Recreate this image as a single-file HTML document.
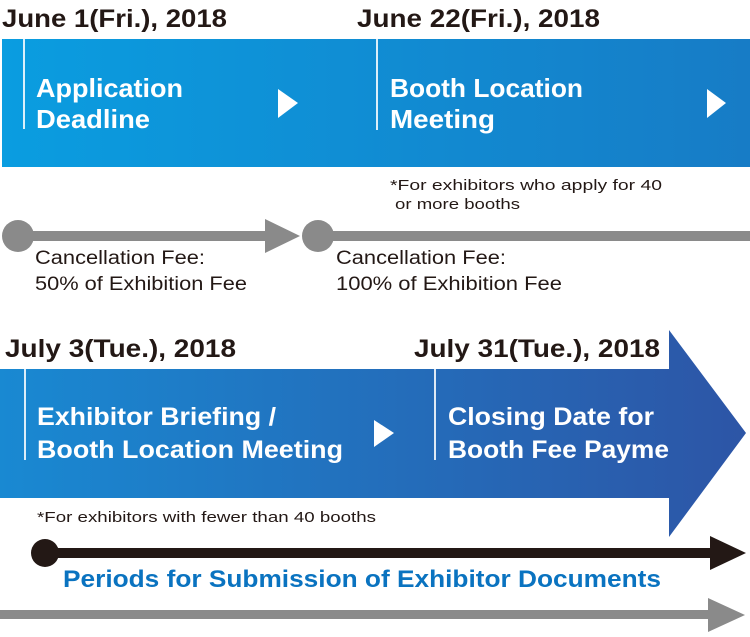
<!DOCTYPE html>
<html><head><meta charset="utf-8"><style>html,body{margin:0;padding:0;background:#fff}svg{display:block}</style></head><body>
<svg width="750" height="637" viewBox="0 0 750 637" xmlns="http://www.w3.org/2000/svg" font-family="'Liberation Sans', sans-serif">
<defs>
<linearGradient id="g1" x1="0" x2="1" y1="0" y2="0"><stop offset="0" stop-color="#0a9de0"/><stop offset="1" stop-color="#177cc6"/></linearGradient>
<linearGradient id="g2" x1="0" x2="1" y1="0" y2="0"><stop offset="0" stop-color="#1989d2"/><stop offset="1" stop-color="#2d55a6"/></linearGradient>
</defs>
<g font-weight="bold" fill="#231815" font-size="25" lengthAdjust="spacingAndGlyphs">
<text x="2" y="27" textLength="225" lengthAdjust="spacingAndGlyphs">June 1(Fri.), 2018</text>
<text x="357" y="27" textLength="243" lengthAdjust="spacingAndGlyphs">June 22(Fri.), 2018</text>
<text x="5" y="357" textLength="231" lengthAdjust="spacingAndGlyphs">July 3(Tue.), 2018</text>
<text x="414" y="357" textLength="246" lengthAdjust="spacingAndGlyphs">July 31(Tue.), 2018</text>
</g>
<rect x="2" y="39" width="748" height="128" fill="url(#g1)"/>
<rect x="23" y="39" width="2" height="90" fill="#fff" opacity=".85"/>
<rect x="376" y="39" width="2" height="91" fill="#fff" opacity=".85"/>
<g fill="#fff" font-weight="bold" font-size="26">
<text x="36" y="97" textLength="147" lengthAdjust="spacingAndGlyphs">Application</text><text x="36" y="128" textLength="114" lengthAdjust="spacingAndGlyphs">Deadline</text>
<text x="390" y="97" textLength="193" lengthAdjust="spacingAndGlyphs">Booth Location</text><text x="390" y="128" textLength="105" lengthAdjust="spacingAndGlyphs">Meeting</text>
</g>
<polygon points="278,89 298,103 278,118" fill="#fff"/>
<polygon points="707,89 726,103 707,118" fill="#fff"/>
<g fill="#231815" font-size="15">
<text x="390" y="190" textLength="272" lengthAdjust="spacingAndGlyphs">*For exhibitors who apply for 40</text>
<text x="395" y="209" textLength="125" lengthAdjust="spacingAndGlyphs">or more booths</text>
<text x="37" y="522" textLength="339" lengthAdjust="spacingAndGlyphs">*For exhibitors with fewer  than 40 booths</text>
</g>
<g fill="#8a8a8a">
<circle cx="18" cy="236" r="16"/><rect x="18" y="231" width="252" height="10"/>
<polygon points="265,219 300,236 265,253"/>
<circle cx="318" cy="236" r="16"/><rect x="318" y="231" width="432" height="10"/>
<rect x="0" y="610" width="712" height="9"/><polygon points="708,598 745,615 708,632"/>
</g>
<g fill="#231815" font-size="19">
<text x="35" y="264" textLength="170" lengthAdjust="spacingAndGlyphs">Cancellation Fee:</text><text x="35" y="290" textLength="212" lengthAdjust="spacingAndGlyphs">50% of Exhibition Fee</text>
<text x="336" y="264" textLength="170" lengthAdjust="spacingAndGlyphs">Cancellation Fee:</text><text x="336" y="290" textLength="226" lengthAdjust="spacingAndGlyphs">100% of Exhibition Fee</text>
</g>
<polygon points="0,369 669,369 669,330 746,433 669,537 669,498 0,498" fill="url(#g2)"/>
<rect x="24" y="369" width="2" height="91" fill="#fff" opacity=".85"/>
<rect x="434" y="369" width="2" height="91" fill="#fff" opacity=".85"/>
<g fill="#fff" font-weight="bold" font-size="25">
<text x="37" y="425" textLength="239" lengthAdjust="spacingAndGlyphs">Exhibitor Briefing /</text><text x="37" y="458" textLength="306" lengthAdjust="spacingAndGlyphs">Booth Location Meeting</text>
<text x="448" y="425" textLength="206" lengthAdjust="spacingAndGlyphs">Closing Date for</text><text x="448" y="458" textLength="221" lengthAdjust="spacingAndGlyphs">Booth Fee Payme</text>
</g>
<polygon points="374,420 394,433 374,447" fill="#fff"/>
<g fill="#231815">
<circle cx="45" cy="553" r="14"/><rect x="45" y="548" width="670" height="10"/>
<polygon points="710,536 746,553 710,570"/>
</g>
<text x="63" y="587" fill="#0a73c0" font-weight="bold" font-size="24" textLength="598" lengthAdjust="spacingAndGlyphs">Periods for Submission of Exhibitor Documents</text>
</svg>
</body></html>
